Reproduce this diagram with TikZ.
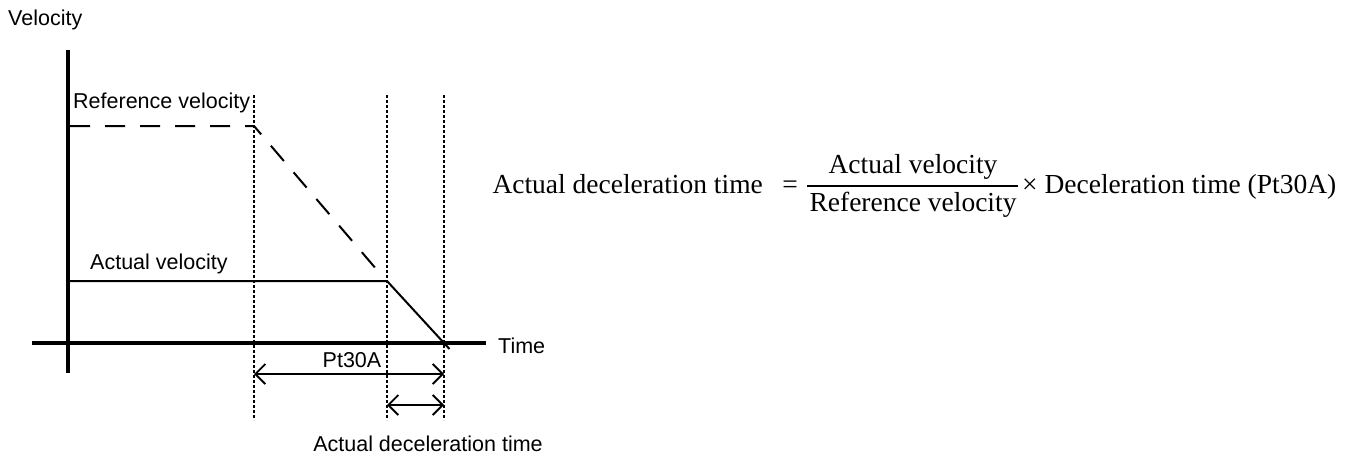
\documentclass[tikz,border=0pt]{standalone}
\usepackage{fontspec}
\setmainfont{Liberation Sans}
\newfontfamily\formfont{Liberation Serif}
\usetikzlibrary{arrows.meta}
\begin{document}
\begin{tikzpicture}[x=1pt,y=-1pt,
  lbl/.style={font=\fontsize{21.5}{24}\selectfont, inner sep=0pt},
  frm/.style={font=\formfont\fontsize{27.5}{32}\selectfont, inner sep=0pt},
  axisline/.style={line width=4pt},
  guide/.style={line width=1.5pt, dash pattern=on 3pt off 2pt},
  refline/.style={line width=2pt, dash pattern=on 20pt off 15pt},
  actline/.style={line width=2pt},
  barb/.tip={Straight Barb[length=10pt,width=20pt]},
  dimarrow/.style={line width=1.8pt, barb-barb}
]
\useasboundingbox (0,0) rectangle (1351,455);
% axes
\coordinate (yb) at (68,373); \coordinate (yt) at (68,50);
\draw[axisline] (yb) -- (yt);
\coordinate (xl) at (32,343); \coordinate (xr) at (486,343);
\draw[axisline] (xl) -- (xr);
% guide lines
\coordinate (g1t) at (254,95); \coordinate (g1b) at (254,420);
\coordinate (g2t) at (387,95); \coordinate (g2b) at (387,420);
\coordinate (g3t) at (444,95); \coordinate (g3b) at (444,420);
\draw[guide] (g1t) -- (g1b);
\draw[guide] (g2t) -- (g2b);
\draw[guide] (g3t) -- (g3b);
% reference velocity
\coordinate (r0) at (70,126); \coordinate (r1) at (254,126); \coordinate (r2) at (383,277);
\draw[refline] (r0) -- (r1) -- (r2);
% actual velocity
\coordinate (a0) at (68,281); \coordinate (a1) at (387,281); \coordinate (a2) at (449.5,349);
\draw[actline] (a0) -- (a1) -- (a2);
% dimension arrows
\coordinate (p1l) at (254,374); \coordinate (p1r) at (444,374);
\draw[dimarrow] (p1l) -- (p1r);
\coordinate (p2l) at (387,405); \coordinate (p2r) at (444,405);
\draw[dimarrow] (p2l) -- (p2r);
% labels
\node[lbl, anchor=west] (vel) at (8,20) {Velocity};
\node[lbl, anchor=west] (refv) at (73,103) {Reference velocity};
\node[lbl, anchor=west] (actv) at (90,264) {Actual velocity};
\node[lbl, anchor=west] (time) at (498,346) {Time};
\node[lbl] (pt) at (352,360) {Pt30A};
\node[lbl] (adt) at (428,444) {Actual deceleration time};
% formula
\node[frm, anchor=base east] (lhs) at (763,193) {Actual deceleration time};
\node[frm, anchor=base] (eq) at (790,193) {=};
\node[frm, anchor=base] (num) at (913,173) {Actual velocity};
\node[frm, anchor=base] (den) at (913,211) {Reference velocity};
\coordinate (barl) at (807,186); \coordinate (barr) at (1018,186);
\draw[line width=1.6pt] (barl) -- (barr);
\node[frm, anchor=base west] (rhs) at (1022,193) {× Deceleration time (Pt30A)};
\end{tikzpicture}
\end{document}
